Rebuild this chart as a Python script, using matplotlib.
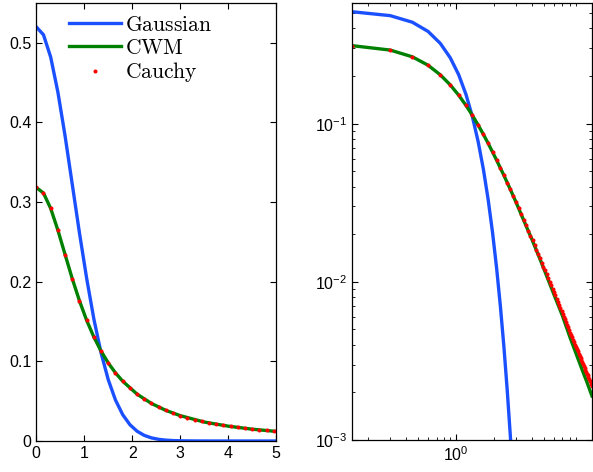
import numpy as np
import matplotlib
matplotlib.use('Agg')
import matplotlib.pyplot as plt

plt.rcParams['font.family'] = ['Liberation Sans', 'DejaVu Sans']
plt.rcParams['mathtext.fontset'] = 'cm'

# sample positions (step 0.15)
x = np.round(np.arange(81) * 0.15, 2)

# values
cauchy = [0.3183, 0.3113, 0.2920, 0.2647, 0.2341, 0.2037, 0.1759, 0.1514, 0.1305, 0.1128,
          0.0979, 0.0855, 0.0751, 0.0663, 0.0588, 0.0525, 0.0471, 0.0424, 0.0384, 0.0349,
          0.0318, 0.0291, 0.0268, 0.0247, 0.0228, 0.0211, 0.0196, 0.0183, 0.0171, 0.0160,
          0.0150, 0.0141, 0.0132, 0.0125, 0.0118, 0.01114, 0.01055, 0.01001, 0.00950, 0.00904,
          0.00860, 0.00820, 0.00782, 0.00747, 0.00714, 0.00684, 0.00655, 0.00628, 0.00602, 0.00579,
          0.00556, 0.00535, 0.00515, 0.00496, 0.00478, 0.00461, 0.00445, 0.00430, 0.00415, 0.00401,
          0.00388, 0.00376, 0.00364, 0.00352, 0.00342, 0.00331, 0.00321, 0.00312, 0.00303, 0.00294,
          0.00286, 0.00278, 0.00271, 0.00263, 0.00256, 0.00250, 0.00243, 0.00237, 0.00231, 0.00225,
          0.00220]

x_cwm = [0, 0.15, 0.3, 0.45, 0.6, 0.75, 0.9, 1.05, 1.2, 1.35, 1.5, 1.65, 1.8, 2.1, 2.4,
         2.7, 3.0, 3.5, 4.0, 4.5, 5.0, 6.0, 7.0, 8.0, 9.0, 10.0, 11.0, 12.0]
cwm = [0.3183, 0.3113, 0.2920, 0.2647, 0.2341, 0.2037, 0.1759, 0.1514, 0.1305, 0.1128,
       0.0979, 0.0855, 0.0751, 0.0588, 0.0471, 0.0384, 0.0318, 0.0238, 0.0186, 0.0148,
       0.0120, 0.0083, 0.0061, 0.0045, 0.0035, 0.0028, 0.0023, 0.0019]

x_gauss = [0, 0.15, 0.3, 0.45, 0.6, 0.75, 0.9, 1.05, 1.2, 1.35, 1.5, 1.65, 1.8, 1.95,
           2.1, 2.25, 2.4, 2.55, 2.7, 2.85, 3.0, 3.3, 3.6, 4.0, 4.5, 5.0]
gauss = [0.520, 0.510, 0.482, 0.438, 0.383, 0.322, 0.261, 0.204, 0.153, 0.1105,
         0.0768, 0.0514, 0.0331, 0.0205, 0.01224, 0.00703, 0.00389, 0.00207, 0.00106,
         0.00052, 0.00025, 0.00005, 0.00001, 0.0, 0.0, 0.0]

blue = '#1a50ff'
green = '#008000'

fig = plt.figure(figsize=(5.93, 4.72), dpi=100)
ax1 = fig.add_axes([0.0612, 0.0657, 0.4047, 0.928])
ax2 = fig.add_axes([0.594, 0.0678, 0.4042, 0.926])

for ax in (ax1, ax2):
    ax.plot(x_gauss, gauss, color=blue, lw=2.4, label=r'$\mathrm{Gaussian}$')
    ax.plot(x_cwm, cwm, color=green, lw=2.4, label=r'$\mathrm{CWM}$')
    ax.plot(x, cauchy, 'o', color='red', ms=2.9, mew=0, label=r'$\mathrm{Cauchy}$')
    ax.tick_params(direction='in', top=True, right=True, labelsize=11.5, length=4, width=0.8)
    ax.tick_params(which='minor', direction='in', top=True, right=True, length=2, width=0.6)
    for s in ax.spines.values():
        s.set_linewidth(0.9)

ax1.set_xlim(0, 5)
ax1.set_ylim(0, 0.55)
ax1.set_xticks([0, 1, 2, 3, 4, 5])
ax1.set_yticks([0, 0.1, 0.2, 0.3, 0.4, 0.5])
ax1.set_yticklabels(['0', '0.1', '0.2', '0.3', '0.4', '0.5'])
ax1.legend(loc='upper left', bbox_to_anchor=(0.087, 1.0), frameon=False, fontsize=15.5,
           handlelength=2.4, handletextpad=0.2, labelspacing=0.085, borderaxespad=0.15,
           markerscale=1.0)

ax2.set_xscale('log')
ax2.set_yscale('log')
ax2.set_xlim(0.15, 12)
ax2.set_ylim(1e-3, 0.58)
ax2.set_xticks([1])
ax2.set_yticks([1e-3, 1e-2, 1e-1])

plt.savefig('out.png', dpi=100)
